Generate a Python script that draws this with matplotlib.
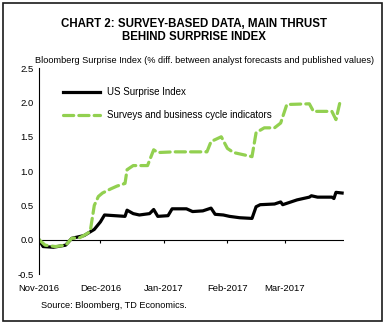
import matplotlib
matplotlib.use("Agg")
import matplotlib.pyplot as plt
import numpy as np
import pandas as pd

plt.rcParams['font.family'] = ['Liberation Sans', 'DejaVu Sans']

# green series: surveys and business cycle indicators
survey_dates = ['2016-11-01', '2016-11-04', '2016-11-09', '2016-11-14', '2016-11-17',
                '2016-11-21', '2016-11-24', '2016-11-26', '2016-11-28', '2016-11-30',
                '2016-12-02', '2016-12-06', '2016-12-09', '2016-12-13', '2016-12-14',
                '2016-12-17', '2016-12-24', '2016-12-27', '2016-12-29', '2017-01-06',
                '2017-01-22', '2017-01-24', '2017-01-29', '2017-02-01', '2017-02-04',
                '2017-02-13', '2017-02-15', '2017-02-19', '2017-02-24', '2017-02-27',
                '2017-03-02', '2017-03-13', '2017-03-15', '2017-03-24', '2017-03-26',
                '2017-03-28']
survey_vals = [0.0, -0.08, -0.10, -0.08, 0.02, 0.03, 0.08, 0.12, 0.50, 0.63,
               0.68, 0.74, 0.78, 0.82, 1.02, 1.08, 1.08, 1.31, 1.27, 1.28,
               1.28, 1.43, 1.50, 1.33, 1.27, 1.21, 1.56, 1.63, 1.63, 1.70,
               1.97, 1.98, 1.87, 1.87, 1.75, 2.01]

# black series: US surprise index
us_dates = ['2016-11-01', '2016-11-03', '2016-11-08', '2016-11-14', '2016-11-17',
            '2016-11-23', '2016-11-28', '2016-12-01', '2016-12-03', '2016-12-08',
            '2016-12-13', '2016-12-14', '2016-12-17', '2016-12-20', '2016-12-25',
            '2016-12-27', '2016-12-29', '2017-01-03', '2017-01-05', '2017-01-12',
            '2017-01-15', '2017-01-20', '2017-01-24', '2017-01-26', '2017-01-30',
            '2017-02-02', '2017-02-07', '2017-02-13', '2017-02-15', '2017-02-17',
            '2017-02-24', '2017-02-27', '2017-02-28', '2017-03-03', '2017-03-07',
            '2017-03-13', '2017-03-14', '2017-03-17', '2017-03-24', '2017-03-25',
            '2017-03-26', '2017-03-29']
us_vals = [0.0, -0.10, -0.11, -0.08, 0.02, 0.06, 0.15, 0.26, 0.36, 0.35,
           0.34, 0.43, 0.38, 0.36, 0.38, 0.44, 0.34, 0.35, 0.45, 0.45,
           0.41, 0.42, 0.46, 0.37, 0.36, 0.34, 0.32, 0.31, 0.48, 0.51,
           0.52, 0.55, 0.51, 0.54, 0.58, 0.62, 0.64, 0.62, 0.62, 0.60,
           0.69, 0.68]

month_ticks = ['2016-11-01', '2016-12-01', '2017-01-01', '2017-02-01', '2017-03-01']
month_labels = ['Nov-2016', 'Dec-2016', 'Jan-2017', 'Feb-2017', 'Mar-2017']

fig = plt.figure(figsize=(3.88, 3.26), dpi=100)
ax = fig.add_axes([0.1005, 0.1595, 0.7865, 0.6315])

green = '#92D050'
ax.plot(pd.to_datetime(us_dates), us_vals, color='black', lw=2.3,
        label='US Surprise Index', solid_joinstyle='round')
ax.plot(pd.to_datetime(survey_dates), survey_vals, color=green, lw=2.3,
        dashes=(3.2, 1.6), dash_capstyle='round',
        label='Surveys and business cycle indicators')

ax.set_xlim(pd.Timestamp('2016-11-01'), pd.Timestamp('2017-03-30'))
ax.set_ylim(-0.5, 2.5)
yt = np.arange(-0.5, 2.51, 0.5)
ax.set_yticks(yt)
ax.set_yticklabels(['%.1f' % v for v in yt])

tick_pos = pd.to_datetime(month_ticks)
ax.set_xticks(tick_pos)
ax.set_xticklabels(month_labels)
ax.tick_params(axis='both', length=0, labelsize=6.8, colors='black')
ax.tick_params(axis='y', pad=4)
ax.tick_params(axis='x', pad=7)
ax.axhline(0, color='black', lw=0.8, zorder=1)
ax.vlines(tick_pos[1:], -0.05, 0, color='black', lw=0.8)

for s in ['top', 'right', 'bottom']:
    ax.spines[s].set_visible(False)
ax.spines['left'].set_linewidth(0.8)

ax.legend(loc='upper left', bbox_to_anchor=(0.05, 0.95), frameon=False,
          fontsize=7, handlelength=3.8, labelspacing=1.35, handletextpad=0.7)

fig.text(0.5, 0.906, 'CHART 2: SURVEY-BASED DATA, MAIN THRUST\nBEHIND SURPRISE INDEX',
         ha='center', va='center', fontsize=8.3, fontweight='bold', linespacing=1.15)
fig.text(0.09, 0.815, 'Bloomberg Surprise Index (% diff. between analyst forecasts and published values)',
         ha='left', va='center', fontsize=6.55)
fig.text(0.105, 0.062, 'Source: Bloomberg, TD Economics.', ha='left', va='center', fontsize=6.6)

border = plt.Rectangle((0.009, 0.015), 0.976, 0.975, transform=fig.transFigure,
                       fill=False, edgecolor='#1a1a1a', lw=1.2)
fig.patches.append(border)

fig.savefig('out.png', dpi=100)
